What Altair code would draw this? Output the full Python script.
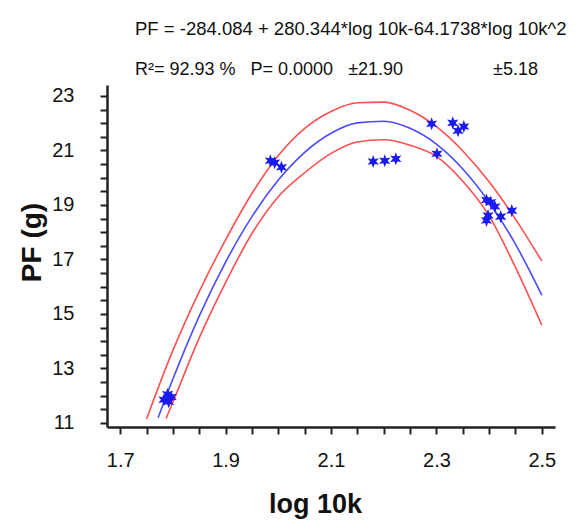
import altair as alt
import pandas as pd

# observed points
pt_x = [1.783, 1.790, 1.797, 1.792, 1.985, 1.993, 2.006, 2.180, 2.202, 2.223,
        2.291, 2.301, 2.331, 2.341, 2.352, 2.395, 2.403, 2.411, 2.422, 2.395, 2.398, 2.443]
pt_y = [11.85, 12.05, 11.95, 11.78, 20.62, 20.55, 20.38, 20.59, 20.62, 20.69,
        21.98, 20.88, 22.01, 21.72, 21.88, 19.18, 19.10, 18.94, 18.57, 18.43, 18.61, 18.79]

# fitted curve and confidence limits
fit_x = [1.772, 1.80, 1.85, 1.90, 1.95, 2.00, 2.05, 2.10, 2.15, 2.20, 2.25, 2.30, 2.35, 2.40, 2.45, 2.50]
fit_y = [11.19, 12.61, 14.92, 16.90, 18.57, 19.91, 20.93, 21.63, 22.01, 22.07, 21.81, 21.23, 20.32, 19.10, 17.56, 15.69]
up_x = [1.75, 1.80, 1.85, 1.90, 1.95, 2.00, 2.05, 2.10, 2.15, 2.20, 2.25, 2.30, 2.35, 2.40, 2.45, 2.50]
up_y = [11.14, 13.66, 15.82, 17.72, 19.42, 20.81, 21.81, 22.43, 22.75, 22.77, 22.47, 21.87, 20.98, 19.85, 18.48, 16.94]
lo_x = [1.787, 1.80, 1.85, 1.90, 1.95, 2.00, 2.05, 2.10, 2.15, 2.20, 2.25, 2.30, 2.35, 2.40, 2.45, 2.50]
lo_y = [11.16, 11.76, 14.12, 16.15, 17.95, 19.30, 20.18, 20.89, 21.31, 21.39, 21.19, 20.78, 19.87, 18.60, 16.71, 14.59]

# tick positions (labels only on the major ones: 1.7, 1.9, ... and 11, 13, ...)
x_ticks = [round(1.7 + 0.05 * i, 2) for i in range(17)]
y_ticks = [11 + 0.5 * i for i in range(25)]

title_line = "PF = -284.084 + 280.344*log 10k-64.1738*log 10k^2"
sub_line = "R²= 92.93 %\u00a0\u00a0\u00a0P= 0.0000\u00a0\u00a0\u00a0±21.90" + "\u00a0" * 18 + "±5.18"

pts = pd.DataFrame({"x": pt_x, "y": pt_y})
curves = pd.concat([
    pd.DataFrame({"x": fit_x, "y": fit_y, "s": "fit"}),
    pd.DataFrame({"x": up_x, "y": up_y, "s": "upper"}),
    pd.DataFrame({"x": lo_x, "y": lo_y, "s": "lower"}),
])

FONT = "Liberation Sans, Arial"
W, H = 448, 342

xs = alt.Scale(domain=[1.675, 2.525], nice=False, zero=False)
ys = alt.Scale(domain=[10.85, 23.4], nice=False, zero=False)

X_LABEL = ("abs(datum.value*10 - round(datum.value*10)) < 0.001 && "
           "round(datum.value*10) % 2 == 1 ? format(datum.value, '.1f') : ''")
Y_LABEL = ("abs(datum.value - round(datum.value)) < 0.001 && "
           "round(datum.value) % 2 == 1 ? format(datum.value, 'd') : ''")

XAX = alt.Axis(values=x_ticks, labelExpr=X_LABEL, labelOverlap=False, title="log 10k", grid=False,
               orient="bottom", tickSize=7, tickWidth=2, tickColor="#222",
               domainColor="#222", domainWidth=2.5,
               labelFont=FONT, labelFontSize=20, labelColor="#111",
               labelPadding=16, titleFont=FONT, titleFontSize=27,
               titleFontWeight="bold", titleColor="#111",
               titleX=208, titleY=77, titleBaseline="middle")
YAX = alt.Axis(values=y_ticks, labelExpr=Y_LABEL, labelOverlap=False, title="PF (g)", grid=False,
               orient="left", tickSize=7, tickWidth=2, tickColor="#222",
               domainColor="#222", domainWidth=2.5,
               labelFont=FONT, labelFontSize=20, labelColor="#111",
               labelPadding=26, titleFont=FONT, titleFontSize=28,
               titleFontWeight="bold", titleColor="#111",
               titleX=-75, titleY=157, titleBaseline="middle")

star = ("M0,-1L0.225,-0.39L0.866,-0.5L0.45,0L0.866,0.5L0.225,0.39L0,1"
        "L-0.225,0.39L-0.866,0.5L-0.45,0L-0.866,-0.5L-0.225,-0.39Z")

lines = alt.Chart(curves).mark_line(interpolate="monotone", strokeWidth=1.6).encode(
    x=alt.X("x:Q", scale=xs, axis=XAX),
    y=alt.Y("y:Q", scale=ys, axis=YAX),
    color=alt.Color("s:N", scale=alt.Scale(domain=["fit", "upper", "lower"],
                                           range=["#4b4bff", "#ff4f4f", "#ff4f4f"]), legend=None),
    detail="s:N",
)

points = alt.Chart(pts).mark_point(shape=star, filled=True, size=170, color="#1a1aee", opacity=1).encode(
    x=alt.X("x:Q", scale=xs, axis=XAX),
    y=alt.Y("y:Q", scale=ys, axis=YAX),
)

chart = alt.layer(lines, points).properties(
    width=W, height=H,
    autosize=alt.AutoSizeParams(type="none"),
    padding={"left": 99, "top": 77, "right": 16, "bottom": 100},
    title=alt.TitleParams(text=title_line, subtitle=sub_line, anchor="start", frame="group",
                          dx=28, font=FONT, fontSize=18.5, fontWeight="normal", color="#111",
                          subtitleFont=FONT, subtitleFontSize=18, subtitleColor="#111",
                          subtitlePadding=23, offset=6),
).configure_view(stroke=None)

chart.save("out.html", embed_options={"renderer": "svg", "actions": False})
